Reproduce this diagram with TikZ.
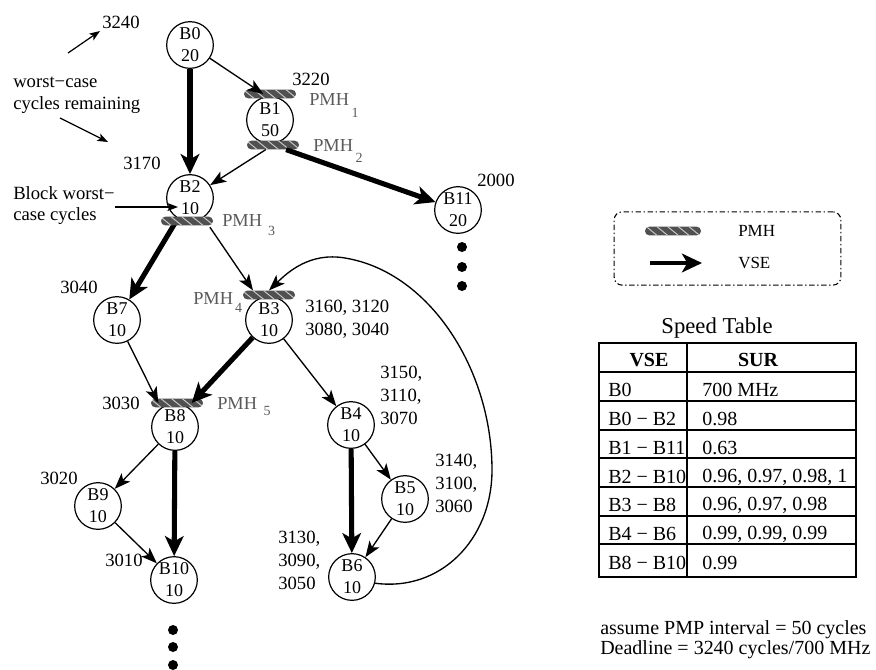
\documentclass[tikz,border=0pt]{standalone}
\usepackage{fontspec}
\setmainfont{Liberation Serif}
\usetikzlibrary{arrows.meta}
\definecolor{barfill}{HTML}{505050}
\definecolor{labgray}{HTML}{5A5A5A}
\newcommand{\pmhsub}[3]{PMH\hspace{#3}\raisebox{-#2}{\fontsize{10.5}{12}\selectfont #1}}
\begin{document}
\begin{tikzpicture}[x=0.75pt,y=-0.75pt,
  blk/.style={circle, draw, line width=0.9pt, minimum size=35pt, inner sep=0pt, align=center, font=\fontsize{13.5}{16.5}\selectfont},
  pmhbar/.style={rectangle, rounded corners=3.2pt, fill=barfill, minimum width=39pt, minimum height=6.5pt, inner sep=0pt,
    path picture={\foreach \k in {-4,...,4}{\draw[white!80!black, line width=0.7pt] ([xshift=\k*8pt-4pt]path picture bounding box.north) -- ++(8pt,-6.5pt);}}},
  ann/.style={font=\fontsize{14}{17.25}\selectfont, inner sep=0pt, anchor=west, align=left},
  pmhlabel/.style={font=\fontsize{13.75}{16}\selectfont, text=labgray, inner sep=0pt, anchor=base west},
  cedge/.style={line width=1pt, -{Stealth[length=12pt,width=9pt,inset=3pt]}},
  vse/.style={line width=3.8pt, -{Stealth[length=15pt,width=14pt,inset=4pt]}},
  annarrow/.style={line width=0.9pt, -{Stealth[length=8pt,width=6pt,inset=2pt]}},
  bigdot/.style={circle, fill, inner sep=0pt, minimum size=7.5pt},
  tabtxt/.style={font=\fontsize{15}{18}\selectfont, inner sep=0pt, anchor=west},
]
\useasboundingbox (0,0) rectangle (876,669);

% blocks
\node[blk] (b0) at (190,45) {B0\\20};
\node[blk] (b1) at (270,120) {B1\\50};
\node[blk] (b2) at (190,198) {B2\\10};
\node[blk] (b11) at (458,210) {B11\\20};
\node[blk] (b7) at (117,320) {B7\\10};
\node[blk] (b3) at (269,320) {B3\\10};
\node[blk] (b8) at (175,427) {B8\\10};
\node[blk] (b9) at (98,506) {B9\\10};
\node[blk] (b10) at (174,580) {B10\\10};
\node[blk] (b4) at (351,425) {B4\\10};
\node[blk] (b5) at (405,499) {B5\\10};
\node[blk] (b6) at (352,577) {B6\\10};

% dots
\node[bigdot] (d1) at (462,247) {};
\node[bigdot] (d2) at (462,267) {};
\node[bigdot] (d3) at (462,286) {};
\node[bigdot] (d4) at (173,630) {};
\node[bigdot] (d5) at (173,647) {};
\node[bigdot] (d6) at (173,665) {};

% edges hidden under bars
\draw[vse] (b2) -- (b7);

% PMH bars
\node[pmhbar] (p1) at (270,94) {};
\node[pmhbar] (p2) at (273,145) {};
\node[pmhbar] (p3) at (187,221) {};
\node[pmhbar] (p4) at (269,295) {};
\node[pmhbar] (p5) at (177,403) {};

% edges
\draw[vse] (b0) -- (b2);
\draw[cedge] (b0) -- ([xshift=-5pt]p1.center);
\draw[cedge] (p2) -- (b2);
\draw[vse] (p2) -- (b11);
\draw[cedge, shorten <=8.5pt] (b2) -- ([xshift=-12pt]p4.north);
\draw[vse] (b3) -- ([xshift=11pt]p5.center);
\draw[cedge] (b7) -- ([xshift=-14pt]p5.center);
\draw[cedge] (b3) -- (b4);
\draw[vse] (b4) -- (b6);
\draw[cedge] (b4) -- (b5);
\draw[cedge] (b5) -- (b6);
\draw[cedge] (b8) -- (b9);
\draw[vse] (b8) -- (b10);
\draw[cedge] (b9) -- (b10);
\coordinate (cr) at (492,470);
\coordinate (ct) at (345,258);
\draw[cedge] (b6.-15) .. controls (440,592) and (492,540) .. (cr) .. controls (492,370) and (430,272) .. (ct) .. controls (310,252) and (288,272) .. (p4.north);

% PMH labels
\node[pmhlabel] (l1) at (309,105) {\pmhsub{1}{9pt}{2pt}};
\node[pmhlabel] (l2) at (313,151) {\pmhsub{2}{8.25pt}{2pt}};
\node[pmhlabel] (l3) at (222,226) {\pmhsub{3}{6.75pt}{4.5pt}};
\node[pmhlabel] (l4) at (193,304) {\pmhsub{4}{6pt}{1.5pt}};
\node[pmhlabel] (l5) at (217,409) {\pmhsub{5}{4.5pt}{5pt}};

% annotations
\node[ann] (n3240) at (102,22) {3240};
\node[ann] (wc1) at (13,82) {worst−case};
\node[ann] (wc2) at (13,105) {cycles remaining};
\node[ann] (n3170) at (123,163) {3170};
\node[ann] (bw1) at (13,193) {Block worst−};
\node[ann] (bw2) at (13,216) {case cycles};
\node[ann] (n3220) at (292,79) {3220};
\node[ann] (n2000) at (477,180) {2000};
\node[ann] (n3040) at (60,287) {3040};
\node[ann] (nb3) at (305,319) {3160, 3120\\3080, 3040};
\node[ann] (n3030) at (102,403) {3030};
\node[ann] (nb4) at (380,395) {3150,\\3110,\\3070};
\node[ann] (nb5) at (435,483) {3140,\\3100,\\3060};
\node[ann] (nb6) at (278,560) {3130,\\3090,\\3050};
\node[ann] (n3020) at (40,478) {3020};
\node[ann] (n3010) at (105,560) {3010};

\coordinate (a1s) at (68,53);
\coordinate (a1e) at (100,31);
\coordinate (a2s) at (60,118);
\coordinate (a2e) at (108,142);
\coordinate (a3s) at (115,207);
\coordinate (a3e) at (178,207);
\draw[annarrow] (a1s) -- (a1e);
\draw[annarrow] (a2s) -- (a2e);
\draw[annarrow] (a3s) -- (a3e);

% legend
\node[draw, line width=0.8pt, dash pattern=on 4pt off 2pt on 1pt off 2pt, rounded corners=6pt, minimum width=170pt, minimum height=55pt, inner sep=0pt] (leg) at (727.5,248.5) {};
\node[pmhbar, minimum width=42pt] (lp) at (673,231) {};
\coordinate (la1) at (650,263);
\coordinate (la2) at (702,263);
\draw[vse, line width=3pt] (la1) -- (la2);
\node[font=\fontsize{12.75}{15}\selectfont, inner sep=0pt, anchor=west] (lt1) at (738,231) {PMH};
\node[font=\fontsize{12.75}{15}\selectfont, inner sep=0pt, anchor=west] (lt2) at (738,263) {VSE};

% speed table
\node[font=\fontsize{17}{20}\selectfont, inner sep=0pt] (sttitle) at (717,328) {Speed Table};
\draw[line width=1pt] (599,343) rectangle (856,577);
\draw[line width=0.9pt] (687,343) -- (687,577);
\draw[line width=1.4pt] (599,372) -- (856,372);
\foreach \yy in {401,430,458,487,516,544}{\draw[line width=0.9pt] (599,\yy) -- (856,\yy);}
\node[tabtxt, anchor=center, font=\bfseries\fontsize{15}{18}\selectfont] (h1) at (649,360) {VSE};
\node[tabtxt, anchor=center, font=\bfseries\fontsize{15}{18}\selectfont] (h2) at (758,360) {SUR};
\node[tabtxt] (r1a) at (608,390) {B0};
\node[tabtxt] (r1b) at (702,390) {700 MHz};
\node[tabtxt] (r2a) at (608,419) {B0 − B2};
\node[tabtxt] (r2b) at (702,419) {0.98};
\node[tabtxt] (r3a) at (608,448) {B1 − B11};
\node[tabtxt] (r3b) at (702,448) {0.63};
\node[tabtxt] (r4a) at (608,477) {B2 − B10};
\node[tabtxt] (r4b) at (702,477) {0.96, 0.97, 0.98, 1};
\node[tabtxt] (r5a) at (608,505) {B3 − B8};
\node[tabtxt] (r5b) at (702,505) {0.96, 0.97, 0.98};
\node[tabtxt] (r6a) at (608,534) {B4 − B6};
\node[tabtxt] (r6b) at (702,534) {0.99, 0.99, 0.99};
\node[tabtxt] (r7a) at (608,563) {B8 − B10};
\node[tabtxt] (r7b) at (702,563) {0.99};

% notes
\node[tabtxt] (note1) at (600,630) {assume PMP interval = 50 cycles};
\node[tabtxt] (note2) at (600,650) {Deadline = 3240 cycles/700 MHz};
\end{tikzpicture}
\end{document}
